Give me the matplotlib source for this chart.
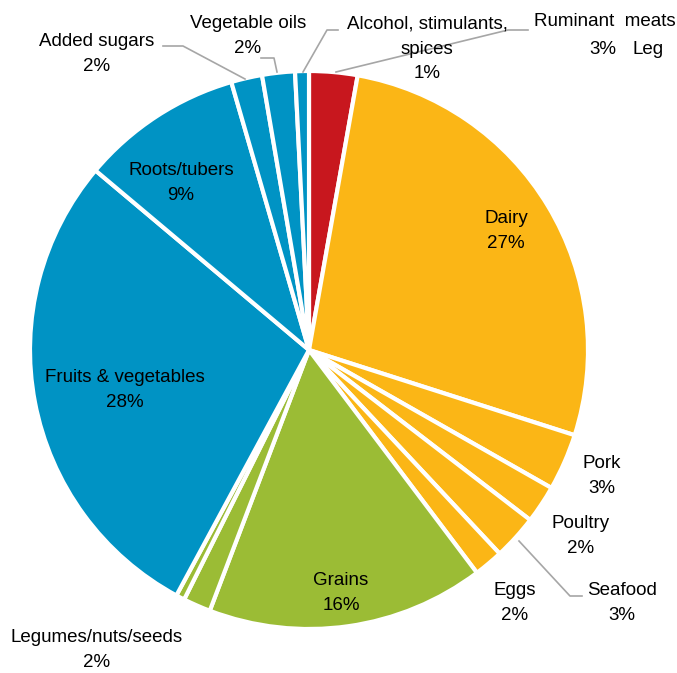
import matplotlib
matplotlib.use("Agg")
import matplotlib.pyplot as plt

# food groups, clockwise from 12 o'clock
groups = ["Ruminant meats", "Dairy", "Pork", "Poultry", "Seafood", "Eggs",
          "Grains", "Legumes/nuts/seeds", "", "Fruits & vegetables",
          "Roots/tubers", "Added sugars", "Vegetable oils",
          "Alcohol, stimulants,\nspices"]
shares = [2.8, 27.2, 3.3, 2.2, 2.6, 1.7, 16.1, 1.6, 0.5, 28.3, 9.4, 1.8, 1.9, 0.8]

RED, ORANGE, GREEN, BLUE = "#C8171E", "#FBB616", "#9BBC35", "#0093C4"
colors = [RED, ORANGE, ORANGE, ORANGE, ORANGE, ORANGE,
          GREEN, GREEN, GREEN, BLUE, BLUE, BLUE, BLUE, BLUE]

# label anchor (pixel coords from top-left) for each slice
label_pos = {
    "Ruminant meats": (603, 36),
    "Dairy": (506, 231),
    "Pork": (602, 476),
    "Poultry": (581, 536),
    "Seafood": (622, 603),
    "Eggs": (515, 603),
    "Grains": (341, 593),
    "Legumes/nuts/seeds": (97, 650),
    "Fruits & vegetables": (125, 390),
    "Roots/tubers": (181, 183),
    "Added sugars": (97, 54),
    "Vegetable oils": (248, 36),
    "Alcohol, stimulants,\nspices": (427, 49),
}

# leader lines, pixel coords
leaders = [
    [(336, 72), (508, 30), (528, 30)],
    [(303, 72), (327, 30), (338, 30)],
    [(277, 72), (274, 58), (261, 58)],
    [(245, 79), (183, 46), (163, 46)],
    [(519, 541), (570, 596), (582, 596)],
]

W, H = 677, 673
FS = 13.5
plt.rcParams["font.family"] = ["Liberation Sans", "DejaVu Sans"]

fig = plt.figure(figsize=(W / 100, H / 100), dpi=100)
ax = fig.add_axes([0, 0, 1, 1])

ax.pie(shares, colors=colors, startangle=90, counterclock=False,
       center=(309, H - 350), radius=279, frame=True,
       wedgeprops=dict(edgecolor="white", linewidth=3))
ax.set_xlim(0, W)
ax.set_ylim(0, H)
ax.set_aspect("equal")
ax.axis("off")

for name, val in zip(groups, shares):
    if name not in label_pos:
        continue
    x, y = label_pos[name]
    if name == "Ruminant meats":
        ax.text(676, H - 22, "Ruminant  meats", ha="right", va="center", fontsize=FS)
        ax.text(x, H - 50, f"{val:.0f}%", ha="center", va="center", fontsize=FS)
        continue
    ax.text(x, H - y, f"{name}\n{val:.0f}%", ha="center", va="center",
            fontsize=FS, linespacing=1.6)

ax.text(633, H - 50, "Leg", ha="left", va="center", fontsize=FS)

for pts in leaders:
    xs = [p[0] for p in pts]
    ys = [H - p[1] for p in pts]
    ax.plot(xs, ys, color="#A6A6A6", linewidth=1.2)

fig.savefig("out.png", dpi=100)
